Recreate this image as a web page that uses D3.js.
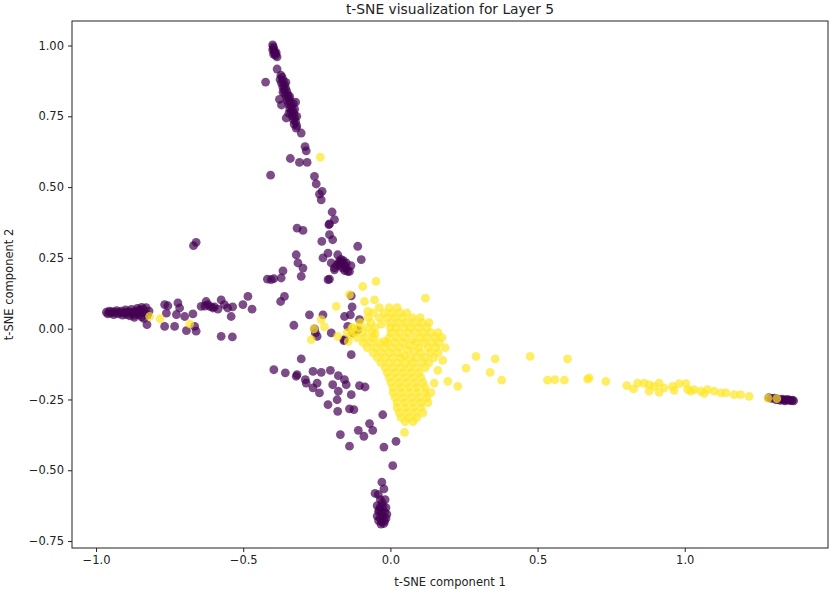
<!DOCTYPE html>
<html>
<head>
<meta charset="utf-8">
<script src="https://cdn.jsdelivr.net/npm/d3@7"></script>
<style>
  body { margin: 0; background: #fff; }
  text { font-family: "DejaVu Sans", sans-serif; fill: #222; }
</style>
</head>
<body>
<div id="chart"></div>
<script>
// label 0 (purple) points, [x, y]
var purplePoints = [
  // top cluster
  [-0.400,1.002],[-0.398,0.995],[-0.396,0.988],[-0.400,0.985],[-0.394,0.978],[-0.392,0.972],
  [-0.397,0.970],[-0.390,0.965],[-0.385,0.960],[-0.388,0.975],
  [-0.385,0.917],[-0.424,0.871],
  // upper arm band
  [-0.372,0.895],[-0.368,0.888],[-0.375,0.880],[-0.364,0.876],[-0.370,0.868],[-0.360,0.862],
  [-0.366,0.855],[-0.356,0.850],[-0.362,0.844],[-0.352,0.838],[-0.358,0.830],[-0.348,0.826],
  [-0.354,0.818],[-0.344,0.812],[-0.350,0.805],[-0.340,0.800],[-0.346,0.792],[-0.336,0.786],
  [-0.342,0.778],[-0.332,0.772],[-0.338,0.765],[-0.328,0.760],[-0.334,0.752],[-0.325,0.745],
  [-0.330,0.738],[-0.322,0.730],[-0.327,0.722],[-0.318,0.716],[-0.365,0.835],[-0.342,0.820],
  [-0.330,0.795],[-0.355,0.870],[-0.345,0.760],[-0.318,0.750],[-0.377,0.810],[-0.322,0.800],
  [-0.370,0.790],[-0.325,0.775],[-0.354,0.744],
  // arm going down
  [-0.320,0.708],[-0.303,0.691],[-0.290,0.643],[-0.286,0.628],[-0.340,0.601],[-0.309,0.587],
  [-0.283,0.587],[-0.407,0.542],[-0.258,0.538],[-0.252,0.511],[-0.232,0.485],[-0.235,0.455],
  [-0.241,0.475],[-0.198,0.412],[-0.190,0.385],[-0.207,0.370],[-0.209,0.367],[-0.317,0.355],
  [-0.297,0.347],[-0.207,0.332],[-0.196,0.314],[-0.233,0.308],[-0.669,0.293],[-0.660,0.305],
  [-0.111,0.291],[-0.320,0.261],[-0.314,0.232],[-0.229,0.250],[-0.099,0.244],[-0.134,0.223],
  [-0.212,0.267],[-0.179,0.261],[-0.201,0.232],[-0.173,0.238],[-0.150,0.232],[-0.162,0.214],
  [-0.145,0.202],[-0.190,0.208],[-0.207,0.175],
  [-0.165,0.235],[-0.158,0.228],[-0.170,0.222],[-0.175,0.230],[-0.160,0.240],[-0.150,0.215],
  [-0.182,0.225],[-0.168,0.245],[-0.155,0.205],[-0.190,0.215],
  // left arm
  [-0.965,0.058],[-0.960,0.052],[-0.955,0.062],[-0.950,0.055],[-0.945,0.060],[-0.940,0.050],
  [-0.935,0.058],[-0.930,0.064],[-0.925,0.052],[-0.920,0.057],[-0.915,0.062],[-0.910,0.048],
  [-0.905,0.055],[-0.900,0.066],[-0.895,0.050],[-0.890,0.060],[-0.885,0.045],[-0.880,0.068],
  [-0.875,0.055],[-0.870,0.040],[-0.865,0.062],[-0.860,0.072],[-0.855,0.050],[-0.850,0.060],
  [-0.845,0.042],[-0.840,0.068],[-0.835,0.055],[-0.830,0.074],[-0.825,0.048],[-0.820,0.062],
  [-0.880,0.058],[-0.860,0.056],[-0.900,0.058],[-0.845,0.075],[-0.838,0.036],[-0.870,0.048],
  [-0.852,0.066],[-0.827,0.014],
  [-0.767,0.085],[-0.756,0.081],[-0.761,0.055],[-0.722,0.091],[-0.716,0.073],[-0.727,0.050],
  [-0.699,0.043],[-0.671,0.052],[-0.767,0.008],[-0.733,0.008],[-0.693,-0.007],[-0.660,-0.009],
  [-0.665,0.008],[-0.575,-0.027],[-0.537,-0.029],
  [-0.643,0.079],[-0.626,0.096],[-0.620,0.085],[-0.598,0.077],[-0.575,0.102],[-0.564,0.085],
  [-0.553,0.073],[-0.536,0.077],[-0.541,0.043],[-0.501,0.085],[-0.484,0.114],[-0.470,0.069],
  [-0.603,0.073],[-0.586,0.069],[-0.630,0.080],[-0.612,0.078],
  // middle, around the yellow blob
  [-0.418,0.175],[-0.396,0.177],[-0.405,0.173],[-0.365,0.204],[-0.371,0.179],[-0.297,0.214],
  [-0.303,0.185],[-0.212,0.173],[-0.139,0.202],[-0.360,0.114],[-0.373,0.096],[-0.133,0.116],
  [-0.130,0.077],[-0.275,0.049],[-0.229,0.049],[-0.328,0.012],[-0.201,-0.015],[-0.158,-0.042],
  [-0.136,0.049],[-0.156,0.043],[-0.145,0.008],[-0.105,0.032],[-0.111,-0.004],[-0.255,-0.015],
  [-0.258,-0.001],[-0.249,-0.027],[-0.128,-0.015],[-0.156,-0.039],
  [-0.133,-0.092],[-0.303,-0.107],[-0.396,-0.145],[-0.357,-0.156],[-0.317,-0.162],[-0.263,-0.151],
  [-0.235,-0.154],[-0.204,-0.147],[-0.177,-0.166],[-0.156,-0.180],[-0.150,-0.198],[-0.196,-0.198],
  [-0.177,-0.221],[-0.181,-0.251],[-0.133,-0.233],[-0.105,-0.201],[-0.086,-0.206],[-0.241,-0.227],
  [-0.212,-0.268],[-0.179,-0.292],[-0.139,-0.283],[-0.124,-0.286],[-0.071,-0.335],[-0.060,-0.359],
  [-0.109,-0.359],[-0.090,-0.380],[-0.170,-0.374],[-0.139,-0.415],[-0.026,-0.304],[-0.022,-0.418],
  [0.019,-0.398],[-0.289,-0.180],[-0.249,-0.192],[-0.263,-0.209],[-0.320,-0.168],[-0.286,-0.192],
  // bottom column
  [0.008,-0.484],[-0.029,-0.542],[-0.022,-0.566],[-0.052,-0.582],[-0.041,-0.586],[-0.018,-0.604],
  [-0.034,-0.604],[-0.028,-0.615],[-0.045,-0.625],[-0.035,-0.630],[-0.025,-0.628],[-0.015,-0.632],
  [-0.038,-0.640],[-0.040,-0.645],[-0.030,-0.650],[-0.020,-0.648],[-0.012,-0.655],[-0.045,-0.662],
  [-0.035,-0.668],[-0.025,-0.665],[-0.015,-0.670],[-0.040,-0.678],[-0.030,-0.682],[-0.020,-0.680],
  [-0.032,-0.690],[-0.022,-0.688],
  // right end
  [1.285,-0.244],[1.295,-0.246],[1.305,-0.245],[1.315,-0.248],[1.320,-0.250],[1.330,-0.249],
  [1.338,-0.251],[1.345,-0.252],[1.350,-0.250],[1.356,-0.253],[1.362,-0.254],[1.366,-0.252],
  [1.370,-0.255],[1.340,-0.255],[1.325,-0.253],[1.310,-0.251]
];

// label 1 (yellow) points, [x, y]
var yellowPoints = [
  [-0.238,0.606],[-0.818,0.043],[-0.782,0.035],[-0.682,0.017],
  [-0.094,0.149],[-0.049,0.167],[-0.139,0.120],[-0.088,0.096],[-0.054,0.102],[-0.184,0.079],
  [-0.077,0.061],[-0.235,0.032],[-0.224,0.006],[-0.260,-0.001],[-0.269,-0.039],[-0.179,-0.027],
  [-0.128,0.002],[-0.133,-0.021],[-0.143,-0.045],[0.119,0.108],
  // main blob
  [-0.038,0.074],[-0.004,0.074],[0.023,0.074],
  [-0.059,0.056],[-0.021,0.056],[0.006,0.056],[0.033,0.056],[0.056,0.056],
  [-0.076,0.039],[-0.038,0.039],[-0.011,0.039],[0.016,0.039],[0.043,0.039],[0.074,0.039],[0.101,0.039],
  [-0.103,0.021],[-0.066,0.021],[-0.030,0.016],[-0.001,0.021],[0.026,0.021],[0.053,0.021],[0.080,0.021],[0.107,0.021],[0.131,0.021],
  [-0.130,0.004],[-0.106,0.004],[-0.079,0.004],[-0.052,0.004],[0.000,0.004],[0.019,0.004],[0.046,0.004],[0.070,0.004],[0.097,0.004],[0.124,0.004],
  [-0.147,-0.014],[-0.120,-0.014],[-0.093,-0.014],[-0.062,-0.014],[0.002,-0.014],[0.030,-0.014],[0.060,-0.014],[0.084,-0.014],[0.111,-0.014],[0.138,-0.014],[0.162,-0.014],
  [-0.113,-0.032],[-0.086,-0.032],[-0.059,-0.032],[-0.052,-0.020],[-0.004,-0.032],[0.023,-0.032],[0.050,-0.032],[0.075,-0.040],[0.101,-0.032],[0.124,-0.032],[0.152,-0.032],[0.175,-0.032],
  [-0.093,-0.049],[-0.066,-0.049],[-0.038,-0.049],[-0.020,-0.045],[-0.011,-0.049],[0.016,-0.049],[0.043,-0.049],[0.065,-0.058],[0.087,-0.049],[0.114,-0.049],[0.141,-0.049],[0.165,-0.049],
  [-0.079,-0.067],[-0.049,-0.067],[-0.021,-0.067],[0.006,-0.067],[0.033,-0.067],[0.058,-0.075],[0.080,-0.080],[0.097,-0.067],[0.128,-0.067],[0.155,-0.067],[0.186,-0.067],
  [-0.059,-0.085],[-0.032,-0.085],[-0.004,-0.085],[0.023,-0.085],[0.048,-0.095],[0.104,-0.085],[0.135,-0.085],[0.162,-0.085],
  [-0.045,-0.102],[-0.018,-0.102],[0.009,-0.102],[0.036,-0.102],[0.068,-0.104],[0.090,-0.102],[0.118,-0.102],[0.148,-0.102],
  [-0.032,-0.120],[-0.004,-0.120],[0.023,-0.120],[0.050,-0.122],[0.077,-0.120],[0.107,-0.120],[0.131,-0.120],
  [-0.018,-0.138],[0.009,-0.138],[0.036,-0.138],[0.063,-0.138],[0.090,-0.138],[0.118,-0.138],
  [-0.011,-0.155],[0.016,-0.155],[0.043,-0.155],[0.070,-0.155],[0.097,-0.155],
  [-0.004,-0.173],[0.023,-0.173],[0.050,-0.173],[0.077,-0.173],[0.104,-0.173],
  [0.002,-0.191],[0.030,-0.191],[0.056,-0.191],[0.084,-0.191],[0.111,-0.191],
  [0.009,-0.208],[0.036,-0.208],[0.063,-0.208],[0.090,-0.208],[0.118,-0.208],
  [0.009,-0.226],[0.036,-0.226],[0.063,-0.226],[0.090,-0.226],[0.118,-0.226],[0.138,-0.226],
  [0.016,-0.244],[0.043,-0.244],[0.070,-0.244],[0.097,-0.244],[0.124,-0.244],
  [0.023,-0.261],[0.050,-0.261],[0.077,-0.261],[0.104,-0.261],[0.128,-0.261],
  [0.023,-0.279],[0.050,-0.279],[0.077,-0.279],[0.104,-0.279],
  [0.030,-0.297],[0.056,-0.297],[0.084,-0.297],[0.111,-0.297],
  [0.036,-0.314],[0.063,-0.314],[0.090,-0.314],
  [0.050,-0.328],[0.077,-0.328],[0.048,-0.366],
  // tail to the right
  [0.291,-0.098],[0.356,-0.107],[0.475,-0.098],[0.602,-0.107],[0.257,-0.139],[0.339,-0.154],
  [0.378,-0.182],[0.195,-0.186],[0.229,-0.204],[0.161,-0.147],[0.178,-0.112],[0.149,-0.192],
  [0.534,-0.182],[0.559,-0.180],[0.591,-0.182],[0.670,-0.178],[0.675,-0.174],[0.732,-0.186],
  [0.803,-0.201],[0.826,-0.213],[0.840,-0.192],[0.862,-0.192],[0.879,-0.198],[0.896,-0.204],
  [0.913,-0.192],[0.930,-0.209],[0.959,-0.204],[0.981,-0.194],[1.004,-0.194],[0.879,-0.221],
  [0.913,-0.225],[0.964,-0.218],[1.010,-0.215],[1.021,-0.221],[1.032,-0.215],[1.055,-0.221],
  [1.066,-0.229],[1.077,-0.215],[1.100,-0.221],[1.123,-0.227],[1.140,-0.227],[1.168,-0.233],
  [1.190,-0.233],[1.219,-0.239],[1.283,-0.245],[1.313,-0.247]
];

var xTicks = [-1.0, -0.5, 0.0, 0.5, 1.0];
var yTicks = [-0.75, -0.50, -0.25, 0.00, 0.25, 0.50, 0.75, 1.00];

var titleText = "t-SNE visualization for Layer 5";
var xLabel = "t-SNE component 1";
var yLabel = "t-SNE component 2";

var W = 831, H = 591;
var margin = {top: 21, right: 3, bottom: 43, left: 72},
    width = W - margin.left - margin.right,
    height = H - margin.top - margin.bottom;

var svg = d3.select("#chart")
  .append("svg")
    .attr("width", W)
    .attr("height", H)
  .append("g")
    .attr("transform", "translate(" + margin.left + "," + margin.top + ")");

var all = purplePoints.concat(yellowPoints);
var xExt = d3.extent(all, function(d){ return d[0]; }),
    yExt = d3.extent(all, function(d){ return d[1]; });
var xPad = (xExt[1] - xExt[0]) * 0.05,
    yPad = (yExt[1] - yExt[0]) * 0.05;

var x = d3.scaleLinear()
  .domain([xExt[0] - xPad, xExt[1] + xPad])
  .range([0, width]);
var y = d3.scaleLinear()
  .domain([yExt[0] - yPad, yExt[1] + yPad])
  .range([height, 0]);

//x-axis
var xAxis = svg.append("g")
  .attr("transform", "translate(0," + height + ")")
  .call(d3.axisBottom(x).tickValues(xTicks).tickFormat(d3.format(".1f")).tickSize(4).tickPadding(4));

//y-axis
var yAxis = svg.append("g")
  .call(d3.axisLeft(y).tickValues(yTicks).tickFormat(d3.format(".2f")).tickSize(4).tickPadding(4));

[xAxis, yAxis].forEach(function(a){
  a.select(".domain").remove();
  a.selectAll("line").attr("stroke", "#222");
  a.selectAll("text").style("font-size", "11.5px").style("fill", "#222");
});

// frame
svg.append("rect")
  .attr("width", width)
  .attr("height", height)
  .attr("fill", "none")
  .attr("stroke", "#222")
  .attr("stroke-width", 1);

// points
var plot = svg.append("g");
plot.selectAll(".p0")
  .data(purplePoints)
  .enter().append("circle")
    .attr("cx", function(d){ return x(d[0]); })
    .attr("cy", function(d){ return y(d[1]); })
    .attr("r", 4.4)
    .attr("fill", "#440154")
    .attr("fill-opacity", 0.7);

plot.selectAll(".p1")
  .data(yellowPoints)
  .enter().append("circle")
    .attr("cx", function(d){ return x(d[0]); })
    .attr("cy", function(d){ return y(d[1]); })
    .attr("r", 4.4)
    .attr("fill", "#fde725")
    .attr("fill-opacity", 0.7);

// labels
svg.append("text")
  .attr("x", width / 2)
  .attr("y", -7)
  .attr("text-anchor", "middle")
  .style("font-size", "13.8px")
  .text(titleText);

svg.append("text")
  .attr("x", width / 2)
  .attr("y", height + 38)
  .attr("text-anchor", "middle")
  .style("font-size", "11.5px")
  .text(xLabel);

svg.append("text")
  .attr("transform", "translate(" + (-59) + "," + (height / 2) + ")rotate(-90)")
  .attr("text-anchor", "middle")
  .style("font-size", "11.5px")
  .text(yLabel);
</script>
</body>
</html>
